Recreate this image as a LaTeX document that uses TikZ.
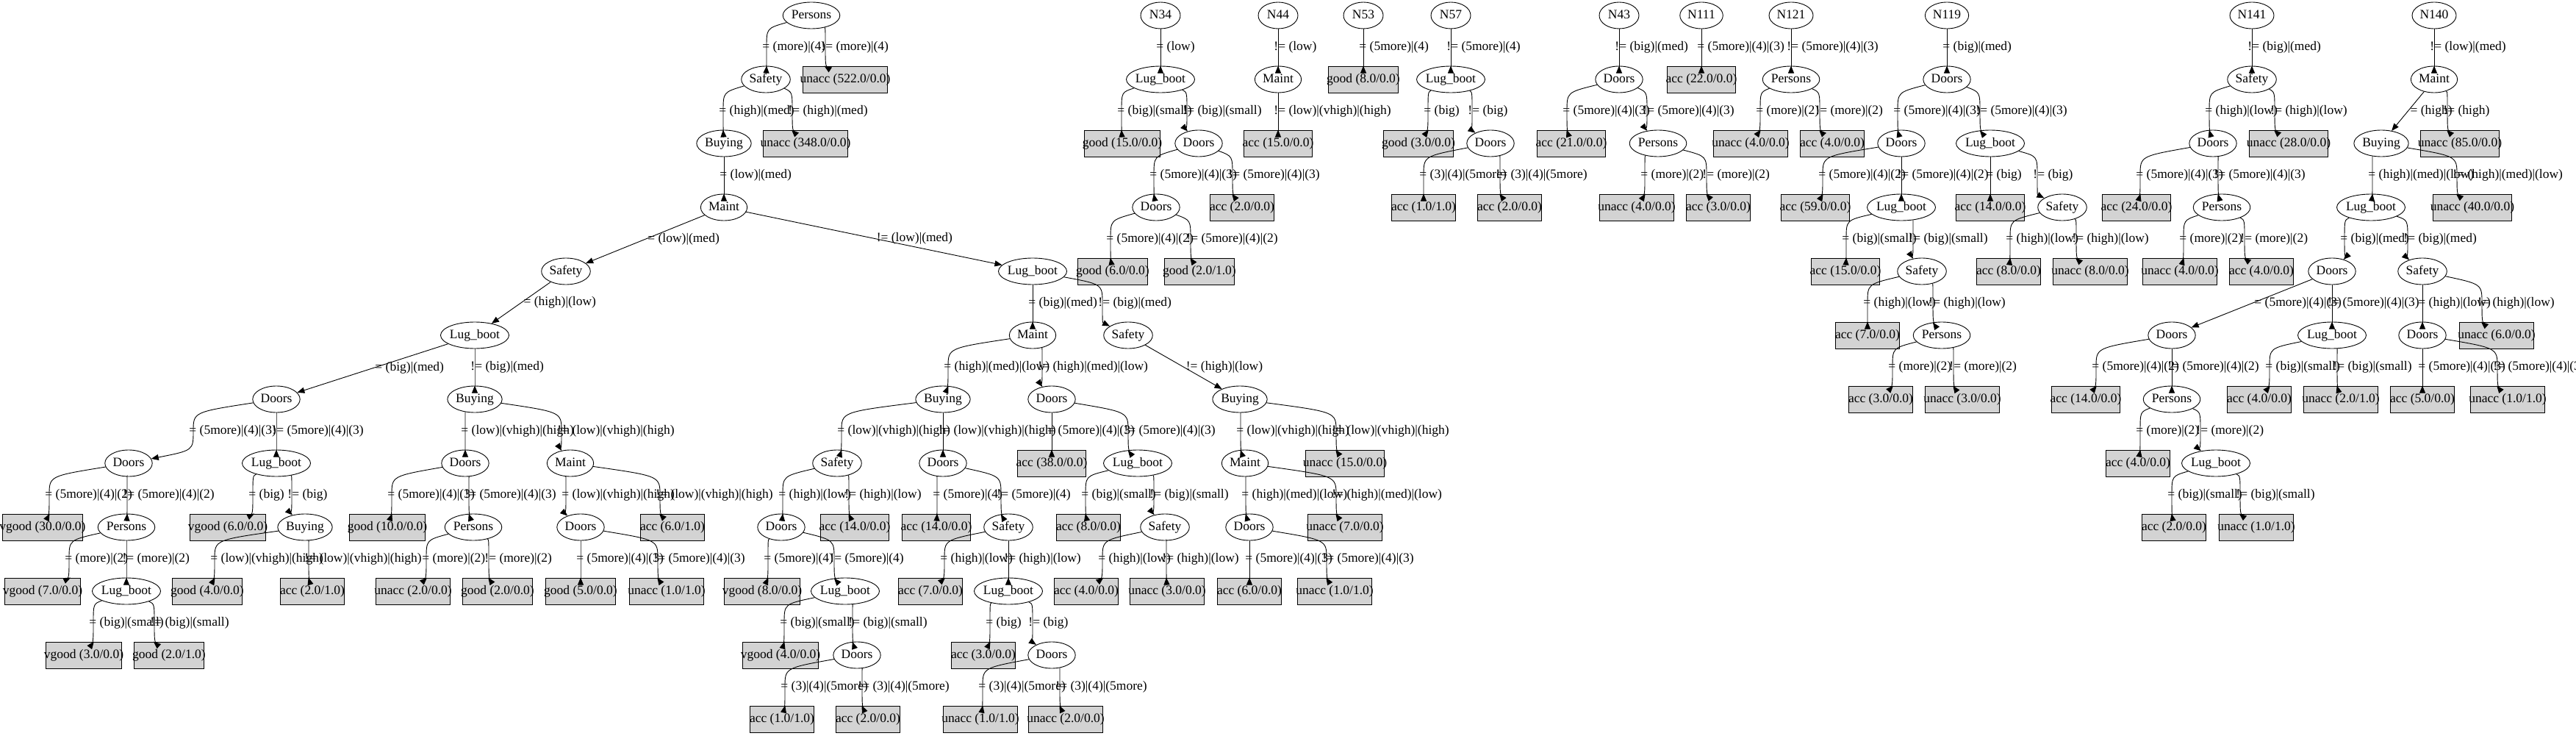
\documentclass[tikz,border=0pt]{standalone}
\usepackage{fontspec}
\setmainfont{Liberation Serif}
\usetikzlibrary{arrows.meta,shapes.geometric}
\definecolor{leafgray}{HTML}{D3D3D3}
\newsavebox\fitbox
\newcommand\fitw[1]{\sbox\fitbox{\fontsize{14}{16}\selectfont #1}\makebox[\wd\fitbox]{#1}}
\newcommand\branch[5]{\draw[link] (#1) .. controls (#3,#4+.2) .. (#3,#4+.5) node[lbl,xshift=-6pt] {#5} .. controls (#3,#4+.8) .. (#2);}
\newcommand\sbranch[3]{\draw[link] (#1) -- (#2) node[lbl,pos=.5,xshift=3pt] {#3};}
\tikzset{
  test/.style={draw, ellipse, line width=.9pt, minimum width=54pt, minimum height=36pt, inner xsep=5.66pt, inner ysep=2pt, text height=12pt, text depth=3.5pt},
  leaf/.style={draw, fill=leafgray, line width=.9pt, minimum height=36pt, inner xsep=8pt, inner ysep=2pt, text height=12pt, text depth=3.5pt},
  lbl/.style={anchor=west, inner sep=0pt},
  link/.style={-{Triangle[length=10pt,width=8pt]}, line width=.9pt}
}
\begin{document}
\begin{tikzpicture}[x=1pt, y=-87pt, font=\fontsize{17.5}{20}\selectfont]
\useasboundingbox (0,-0.2414) rectangle (3505,11.2644);

\node[test] (m0) at (1104,0) {\fitw{Persons}};
\node[test] (m1) at (1042,1) {\fitw{Safety}};
\node[leaf] (m1r) at (1150,1) {\fitw{unacc (522.0/0.0)}};
\node[test] (m2) at (985,2) {\fitw{Buying}};
\node[leaf] (m2r) at (1096,2) {\fitw{unacc (348.0/0.0)}};
\node[test] (m3) at (985,3) {\fitw{Maint}};
\node[test] (sB) at (770,4) {\fitw{Safety}};
\node[test] (lA) at (1405,4) {\fitw{Lug\_boot}};
\node[test] (lB) at (646,5) {\fitw{Lug\_boot}};
\node[test] (mB) at (1405,5) {\fitw{Maint}};
\node[test] (sC) at (1535,5) {\fitw{Safety}};
\node[test] (dA) at (376,6) {\fitw{Doors}};
\node[test] (bB) at (646,6) {\fitw{Buying}};
\node[test] (bC) at (1283,6) {\fitw{Buying}};
\node[test] (dB) at (1431,6) {\fitw{Doors}};
\node[test] (bD) at (1687,6) {\fitw{Buying}};
\node[test] (dC) at (175,7) {\fitw{Doors}};
\node[test] (lC) at (376,7) {\fitw{Lug\_boot}};
\node[test] (dD) at (633,7) {\fitw{Doors}};
\node[test] (mC) at (776,7) {\fitw{Maint}};
\node[test] (sD) at (1139,7) {\fitw{Safety}};
\node[test] (dE) at (1283,7) {\fitw{Doors}};
\node[leaf] (k1) at (1431,7) {\fitw{acc (38.0/0.0)}};
\node[test] (lD) at (1548,7) {\fitw{Lug\_boot}};
\node[test] (mD) at (1694,7) {\fitw{Maint}};
\node[leaf] (k2) at (1830,7) {\fitw{unacc (15.0/0.0)}};
\node[leaf] (k3) at (58,8) {\fitw{vgood (30.0/0.0)}};
\node[test] (pB) at (172,8) {\fitw{Persons}};
\node[leaf] (k4) at (310,8) {\fitw{vgood (6.0/0.0)}};
\node[test] (bE) at (415,8) {\fitw{Buying}};
\node[leaf] (k5) at (527,8) {\fitw{good (10.0/0.0)}};
\node[test] (pC) at (644,8) {\fitw{Persons}};
\node[test] (dF) at (790,8) {\fitw{Doors}};
\node[leaf] (k6) at (915,8) {\fitw{acc (6.0/1.0)}};
\node[test] (dG) at (1063,8) {\fitw{Doors}};
\node[leaf] (k7) at (1163,8) {\fitw{acc (14.0/0.0)}};
\node[leaf] (k8) at (1274,8) {\fitw{acc (14.0/0.0)}};
\node[test] (sE) at (1372,8) {\fitw{Safety}};
\node[leaf] (k9) at (1481,8) {\fitw{acc (8.0/0.0)}};
\node[test] (sF) at (1585,8) {\fitw{Safety}};
\node[test] (dH) at (1700,8) {\fitw{Doors}};
\node[leaf] (k10) at (1830,8) {\fitw{unacc (7.0/0.0)}};
\node[leaf] (k11) at (58,9) {\fitw{vgood (7.0/0.0)}};
\node[test] (lE) at (172,9) {\fitw{Lug\_boot}};
\node[leaf] (k12) at (282,9) {\fitw{good (4.0/0.0)}};
\node[leaf] (k13) at (425,9) {\fitw{acc (2.0/1.0)}};
\node[leaf] (k14) at (562,9) {\fitw{unacc (2.0/0.0)}};
\node[leaf] (k15) at (677,9) {\fitw{good (2.0/0.0)}};
\node[leaf] (k16) at (790,9) {\fitw{good (5.0/0.0)}};
\node[leaf] (k17) at (907,9) {\fitw{unacc (1.0/1.0)}};
\node[leaf] (k18) at (1037,9) {\fitw{vgood (8.0/0.0)}};
\node[test] (lF) at (1150,9) {\fitw{Lug\_boot}};
\node[leaf] (k19) at (1266,9) {\fitw{acc (7.0/0.0)}};
\node[test] (lG) at (1372,9) {\fitw{Lug\_boot}};
\node[leaf] (k20) at (1478,9) {\fitw{acc (4.0/0.0)}};
\node[leaf] (k21) at (1588,9) {\fitw{unacc (3.0/0.0)}};
\node[leaf] (k22) at (1700,9) {\fitw{acc (6.0/0.0)}};
\node[leaf] (k23) at (1816,9) {\fitw{unacc (1.0/1.0)}};
\node[leaf] (k24) at (114,10) {\fitw{vgood (3.0/0.0)}};
\node[leaf] (k25) at (230,10) {\fitw{good (2.0/1.0)}};
\node[leaf] (k26) at (1062,10) {\fitw{vgood (4.0/0.0)}};
\node[test] (dI) at (1166,10) {\fitw{Doors}};
\node[leaf] (k27) at (1338,10) {\fitw{acc (3.0/0.0)}};
\node[test] (dJ) at (1431,10) {\fitw{Doors}};
\node[leaf] (k28) at (1064,11) {\fitw{acc (1.0/1.0)}};
\node[leaf] (k29) at (1181,11) {\fitw{acc (2.0/0.0)}};
\node[leaf] (k30) at (1334,11) {\fitw{unacc (1.0/1.0)}};
\node[leaf] (k31) at (1450,11) {\fitw{unacc (2.0/0.0)}};

\node[test] (a0) at (1579,0) {\fitw{N34}};
\node[test] (a1) at (1579,1) {\fitw{Lug\_boot}};
\node[leaf] (a2) at (1527,2) {\fitw{good (15.0/0.0)}};
\node[test] (a3) at (1631,2) {\fitw{Doors}};
\node[test] (a4) at (1573,3) {\fitw{Doors}};
\node[leaf] (a5) at (1690,3) {\fitw{acc (2.0/0.0)}};
\node[leaf] (a6) at (1514,4) {\fitw{good (6.0/0.0)}};
\node[leaf] (a7) at (1632,4) {\fitw{good (2.0/1.0)}};
\node[test] (b0) at (1739,0) {\fitw{N44}};
\node[test] (b1) at (1739,1) {\fitw{Maint}};
\node[leaf] (b2) at (1739,2) {\fitw{acc (15.0/0.0)}};
\node[test] (c0) at (1855,0) {\fitw{N53}};
\node[leaf] (c1) at (1855,1) {\fitw{good (8.0/0.0)}};
\node[test] (d0) at (1974,0) {\fitw{N57}};
\node[test] (d1) at (1974,1) {\fitw{Lug\_boot}};
\node[leaf] (d2) at (1930,2) {\fitw{good (3.0/0.0)}};
\node[test] (d3) at (2028,2) {\fitw{Doors}};
\node[leaf] (d4) at (1937,3) {\fitw{acc (1.0/1.0)}};
\node[leaf] (d5) at (2054,3) {\fitw{acc (2.0/0.0)}};
\node[test] (e0) at (2203,0) {\fitw{N43}};
\node[test] (e1) at (2203,1) {\fitw{Doors}};
\node[leaf] (e2) at (2138,2) {\fitw{acc (21.0/0.0)}};
\node[test] (e3) at (2256,2) {\fitw{Persons}};
\node[leaf] (e4) at (2227,3) {\fitw{unacc (4.0/0.0)}};
\node[leaf] (e5) at (2338,3) {\fitw{acc (3.0/0.0)}};
\node[test] (f0) at (2315,0) {\fitw{N111}};
\node[leaf] (f1) at (2315,1) {\fitw{acc (22.0/0.0)}};
\node[test] (g0) at (2437,0) {\fitw{N121}};
\node[test] (g1) at (2437,1) {\fitw{Persons}};
\node[leaf] (g2) at (2382,2) {\fitw{unacc (4.0/0.0)}};
\node[leaf] (g3) at (2493,2) {\fitw{acc (4.0/0.0)}};
\node[test] (h0) at (2649,0) {\fitw{N119}};
\node[test] (h1) at (2649,1) {\fitw{Doors}};
\node[test] (h2) at (2587,2) {\fitw{Doors}};
\node[test] (h3) at (2708,2) {\fitw{Lug\_boot}};
\node[leaf] (h4) at (2470,3) {\fitw{acc (59.0/0.0)}};
\node[test] (h5) at (2587,3) {\fitw{Lug\_boot}};
\node[leaf] (h6) at (2708,3) {\fitw{acc (14.0/0.0)}};
\node[test] (h7) at (2806,3) {\fitw{Safety}};
\node[leaf] (h8) at (2511,4) {\fitw{acc (15.0/0.0)}};
\node[test] (h9) at (2615,4) {\fitw{Safety}};
\node[leaf] (h10) at (2733,4) {\fitw{acc (8.0/0.0)}};
\node[leaf] (h11) at (2844,4) {\fitw{unacc (8.0/0.0)}};
\node[leaf] (h12) at (2541,5) {\fitw{acc (7.0/0.0)}};
\node[test] (h13) at (2642,5) {\fitw{Persons}};
\node[leaf] (h14) at (2559,6) {\fitw{acc (3.0/0.0)}};
\node[leaf] (h15) at (2670,6) {\fitw{unacc (3.0/0.0)}};
\node[test] (i0) at (3064,0) {\fitw{N141}};
\node[test] (i1) at (3064,1) {\fitw{Safety}};
\node[test] (i2) at (3011,2) {\fitw{Doors}};
\node[leaf] (i3) at (3114,2) {\fitw{unacc (28.0/0.0)}};
\node[leaf] (i4) at (2907,3) {\fitw{acc (24.0/0.0)}};
\node[test] (i5) at (3023,3) {\fitw{Persons}};
\node[leaf] (i6) at (2966,4) {\fitw{unacc (4.0/0.0)}};
\node[leaf] (i7) at (3077,4) {\fitw{acc (4.0/0.0)}};
\node[test] (j0) at (3312,0) {\fitw{N140}};
\node[test] (j1) at (3312,1) {\fitw{Maint}};
\node[test] (j2) at (3240,2) {\fitw{Buying}};
\node[leaf] (j3) at (3347,2) {\fitw{unacc (85.0/0.0)}};
\node[test] (j4) at (3226,3) {\fitw{Lug\_boot}};
\node[leaf] (j5) at (3364,3) {\fitw{unacc (40.0/0.0)}};
\node[test] (j6) at (3173,4) {\fitw{Doors}};
\node[test] (j7) at (3296,4) {\fitw{Safety}};
\node[test] (j8) at (2955,5) {\fitw{Doors}};
\node[test] (j9) at (3173,5) {\fitw{Lug\_boot}};
\node[test] (j10) at (3296,5) {\fitw{Doors}};
\node[leaf] (j11) at (3397,5) {\fitw{unacc (6.0/0.0)}};
\node[leaf] (j12) at (2838,6) {\fitw{acc (14.0/0.0)}};
\node[test] (j13) at (2955,6) {\fitw{Persons}};
\node[leaf] (j14) at (3074,6) {\fitw{acc (4.0/0.0)}};
\node[leaf] (j15) at (3185,6) {\fitw{unacc (2.0/1.0)}};
\node[leaf] (j16) at (3296,6) {\fitw{acc (5.0/0.0)}};
\node[leaf] (j17) at (3412,6) {\fitw{unacc (1.0/1.0)}};
\node[leaf] (j18) at (2909,7) {\fitw{acc (4.0/0.0)}};
\node[test] (j19) at (3015,7) {\fitw{Lug\_boot}};
\node[leaf] (j20) at (2958,8) {\fitw{acc (2.0/0.0)}};
\node[leaf] (j21) at (3070,8) {\fitw{unacc (1.0/1.0)}};

\branch{m0}{m1}{1043}{0}{= (more)|(4)}
\branch{m0}{m1r}{1123}{0}{!= (more)|(4)}
\branch{m1}{m2}{984}{1}{= (high)|(med)}
\branch{m1}{m2r}{1078}{1}{!= (high)|(med)}
\branch{m2}{m3}{985}{2}{= (low)|(med)}
\sbranch{m3}{sB}{= (low)|(med)}
\sbranch{m3}{lA}{!= (low)|(med)}
\sbranch{sB}{lB}{= (high)|(low)}
\sbranch{lB}{dA}{= (big)|(med)}
\branch{lB}{bB}{646}{5}{!= (big)|(med)}
\branch{dA}{dC}{263}{6}{= (5more)|(4)|(3)}
\branch{dA}{lC}{376}{6}{!= (5more)|(4)|(3)}
\branch{dC}{k3}{67}{7}{= (5more)|(4)|(2)}
\branch{dC}{pB}{173}{7}{!= (5more)|(4)|(2)}
\branch{lC}{k4}{344}{7}{= (big)}
\branch{lC}{bE}{397}{7}{!= (big)}
\branch{pB}{k11}{94}{8}{= (more)|(2)}
\branch{pB}{lE}{172}{8}{!= (more)|(2)}
\branch{lE}{k24}{127}{9}{= (big)|(small)}
\branch{lE}{k25}{210}{9}{!= (big)|(small)}
\branch{bE}{k12}{292}{8}{= (low)|(vhigh)|(high)}
\branch{bE}{k13}{420}{8}{!= (low)|(vhigh)|(high)}
\branch{bB}{dD}{633}{6}{= (low)|(vhigh)|(high)}
\branch{bB}{mC}{764}{6}{!= (low)|(vhigh)|(high)}
\branch{dD}{k5}{533}{7}{= (5more)|(4)|(3)}
\branch{dD}{pC}{638}{7}{!= (5more)|(4)|(3)}
\branch{pC}{k14}{580}{8}{= (more)|(2)}
\branch{pC}{k15}{665}{8}{!= (more)|(2)}
\branch{mC}{dF}{770}{7}{= (low)|(vhigh)|(high)}
\branch{mC}{k6}{898}{7}{!= (low)|(vhigh)|(high)}
\branch{dF}{k16}{790}{8}{= (5more)|(4)|(3)}
\branch{dF}{k17}{895}{8}{!= (5more)|(4)|(3)}
\branch{lA}{mB}{1405}{4}{= (big)|(med)}
\branch{lA}{sC}{1500}{4}{!= (big)|(med)}
\branch{mB}{bC}{1290}{5}{= (high)|(med)|(low)}
\branch{mB}{dB}{1418}{5}{!= (high)|(med)|(low)}
\sbranch{sC}{bD}{!= (high)|(low)}
\branch{bC}{sD}{1145}{6}{= (low)|(vhigh)|(high)}
\branch{bC}{dE}{1283}{6}{!= (low)|(vhigh)|(high)}
\branch{dB}{k1}{1431}{6}{= (5more)|(4)|(3)}
\branch{dB}{lD}{1535}{6}{!= (5more)|(4)|(3)}
\branch{bD}{mD}{1688}{6}{= (low)|(vhigh)|(high)}
\branch{bD}{k2}{1818}{6}{!= (low)|(vhigh)|(high)}
\branch{sD}{dG}{1065}{7}{= (high)|(low)}
\branch{sD}{k7}{1155}{7}{!= (high)|(low)}
\branch{dE}{k8}{1275}{7}{= (5more)|(4)}
\branch{dE}{sE}{1362}{7}{!= (5more)|(4)}
\branch{lD}{k9}{1477}{7}{= (big)|(small)}
\branch{lD}{sF}{1570}{7}{!= (big)|(small)}
\branch{mD}{dH}{1695}{7}{= (high)|(med)|(low)}
\branch{mD}{k10}{1818}{7}{!= (high)|(med)|(low)}
\branch{dG}{k18}{1045}{8}{= (5more)|(4)}
\branch{dG}{lF}{1135}{8}{!= (5more)|(4)}
\branch{sE}{k19}{1285}{8}{= (high)|(low)}
\branch{sE}{lG}{1372}{8}{!= (high)|(low)}
\branch{sF}{k20}{1500}{8}{= (high)|(low)}
\branch{sF}{k21}{1587}{8}{!= (high)|(low)}
\branch{dH}{k22}{1700}{8}{= (5more)|(4)|(3)}
\branch{dH}{k23}{1805}{8}{!= (5more)|(4)|(3)}
\branch{lF}{k26}{1067}{9}{= (big)|(small)}
\branch{lF}{dI}{1160}{9}{!= (big)|(small)}
\branch{lG}{k27}{1347}{9}{= (big)}
\branch{lG}{dJ}{1405}{9}{!= (big)}
\branch{dI}{k28}{1068}{10}{= (3)|(4)|(5more)}
\branch{dI}{k29}{1173}{10}{!= (3)|(4)|(5more)}
\branch{dJ}{k30}{1337}{10}{= (3)|(4)|(5more)}
\branch{dJ}{k31}{1442}{10}{!= (3)|(4)|(5more)}

\branch{a0}{a1}{1579}{0}{= (low)}
\branch{a1}{a2}{1526}{1}{= (big)|(small)}
\branch{a1}{a3}{1615}{1}{!= (big)|(small)}
\branch{a3}{a4}{1570}{2}{= (5more)|(4)|(3)}
\branch{a3}{a5}{1677}{2}{!= (5more)|(4)|(3)}
\branch{a4}{a6}{1511}{3}{= (5more)|(4)|(2)}
\branch{a4}{a7}{1620}{3}{!= (5more)|(4)|(2)}
\branch{b0}{b1}{1739}{0}{!= (low)}
\branch{b1}{b2}{1739}{1}{!= (low)|(vhigh)|(high)}
\branch{c0}{c1}{1855}{0}{= (5more)|(4)}
\branch{d0}{d1}{1974}{0}{!= (5more)|(4)}
\branch{d1}{d2}{1943}{1}{= (big)}
\branch{d1}{d3}{2003}{1}{!= (big)}
\branch{d3}{d4}{1937}{2}{= (3)|(4)|(5more)}
\branch{d3}{d5}{2041}{2}{!= (3)|(4)|(5more)}
\branch{e0}{e1}{2203}{0}{!= (big)|(med)}
\branch{e1}{e2}{2132}{1}{= (5more)|(4)|(3)}
\branch{e1}{e3}{2241}{1}{!= (5more)|(4)|(3)}
\branch{e3}{e4}{2238}{2}{= (more)|(2)}
\branch{e3}{e5}{2322}{2}{!= (more)|(2)}
\branch{f0}{f1}{2315}{0}{= (5more)|(4)|(3)}
\branch{g0}{g1}{2437}{0}{!= (5more)|(4)|(3)}
\branch{g1}{g2}{2395}{1}{= (more)|(2)}
\branch{g1}{g3}{2476}{1}{!= (more)|(2)}
\branch{h0}{h1}{2649}{0}{= (big)|(med)}
\branch{h1}{h2}{2582}{1}{= (5more)|(4)|(3)}
\branch{h1}{h3}{2694}{1}{!= (5more)|(4)|(3)}
\branch{h2}{h4}{2480}{2}{= (5more)|(4)|(2)}
\branch{h2}{h5}{2587}{2}{!= (5more)|(4)|(2)}
\branch{h3}{h6}{2708}{2}{= (big)}
\branch{h3}{h7}{2772}{2}{!= (big)}
\branch{h5}{h8}{2512}{3}{= (big)|(small)}
\branch{h5}{h9}{2603}{3}{!= (big)|(small)}
\branch{h7}{h10}{2735}{3}{= (high)|(low)}
\branch{h7}{h11}{2825}{3}{!= (high)|(low)}
\branch{h9}{h12}{2541}{4}{= (high)|(low)}
\branch{h9}{h13}{2630}{4}{!= (high)|(low)}
\branch{h13}{h14}{2575}{5}{= (more)|(2)}
\branch{h13}{h15}{2658}{5}{!= (more)|(2)}
\branch{i0}{i1}{3064}{0}{!= (big)|(med)}
\branch{i1}{i2}{3006}{1}{= (high)|(low)}
\branch{i1}{i3}{3095}{1}{!= (high)|(low)}
\branch{i2}{i4}{2912}{2}{= (5more)|(4)|(3)}
\branch{i2}{i5}{3018}{2}{!= (5more)|(4)|(3)}
\branch{i5}{i6}{2971}{3}{= (more)|(2)}
\branch{i5}{i7}{3054}{3}{!= (more)|(2)}
\branch{j0}{j1}{3312}{0}{!= (low)|(med)}
\sbranch{j1}{j2}{= (high)}
\branch{j1}{j3}{3330}{1}{!= (high)}
\branch{j2}{j4}{3228}{2}{= (high)|(med)|(low)}
\branch{j2}{j5}{3343}{2}{!= (high)|(med)|(low)}
\branch{j4}{j6}{3190}{3}{= (big)|(med)}
\branch{j4}{j7}{3276}{3}{!= (big)|(med)}
\sbranch{j6}{j8}{= (5more)|(4)|(3)}
\branch{j6}{j9}{3173}{4}{!= (5more)|(4)|(3)}
\branch{j7}{j10}{3296}{4}{= (high)|(low)}
\branch{j7}{j11}{3377}{4}{!= (high)|(low)}
\branch{j8}{j12}{2852}{5}{= (5more)|(4)|(2)}
\branch{j8}{j13}{2955}{5}{!= (5more)|(4)|(2)}
\branch{j9}{j14}{3088}{5}{= (big)|(small)}
\branch{j9}{j15}{3180}{5}{!= (big)|(small)}
\branch{j10}{j16}{3296}{5}{= (5more)|(4)|(3)}
\branch{j10}{j17}{3398}{5}{!= (5more)|(4)|(3)}
\branch{j13}{j18}{2912}{6}{= (more)|(2)}
\branch{j13}{j19}{2994}{6}{!= (more)|(2)}
\branch{j19}{j20}{2955}{7}{= (big)|(small)}
\branch{j19}{j21}{3048}{7}{!= (big)|(small)}
\end{tikzpicture}
\end{document}
